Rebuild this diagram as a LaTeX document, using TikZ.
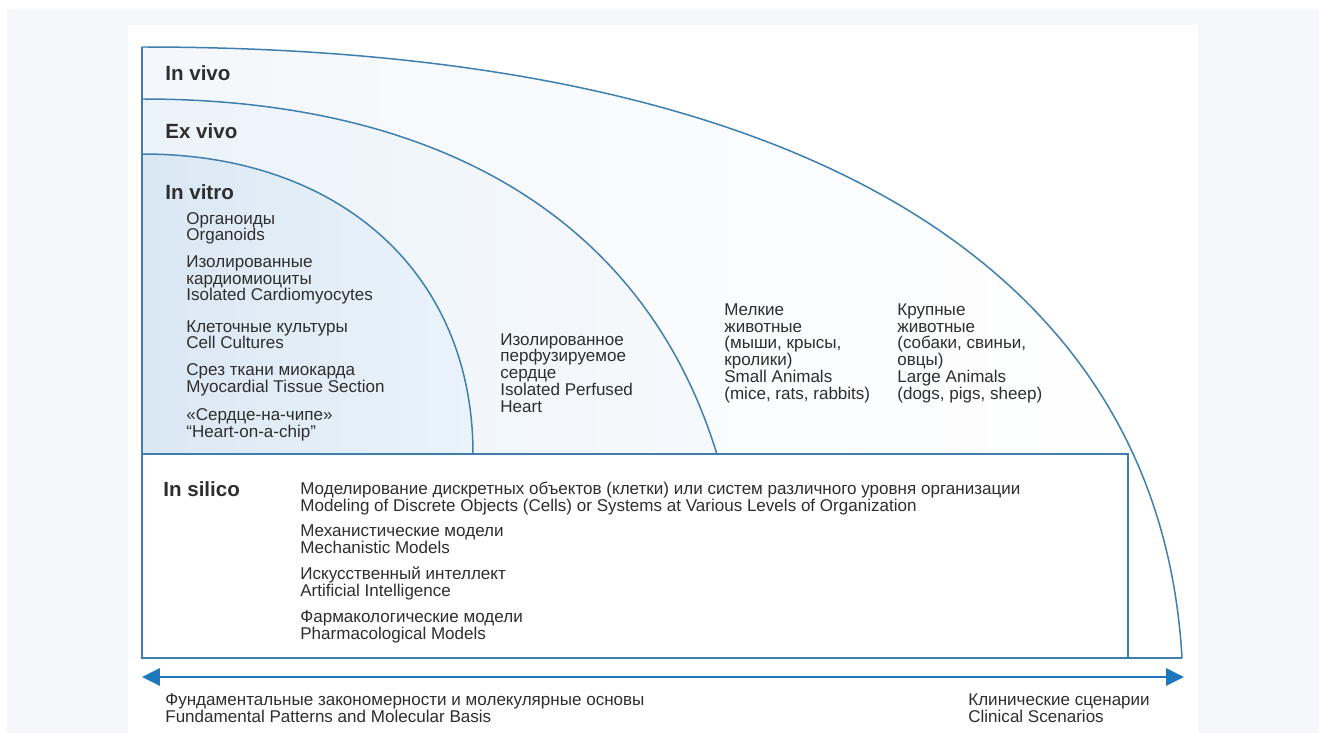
\documentclass[tikz,border=0pt]{standalone}
\usepackage{fontspec}
\setmainfont{Liberation Sans}
\usetikzlibrary{arrows.meta}

\definecolor{txt}{HTML}{2E2E2E}
\definecolor{rimblue}{HTML}{3F7FB0}
\definecolor{axisblue}{HTML}{1E78BE}
\definecolor{pagegray}{HTML}{F5F7FA}
\definecolor{vitroL}{HTML}{DAE8F4}
\definecolor{vitroR}{HTML}{EAF3FA}
\definecolor{exL}{HTML}{ECF3F9}
\definecolor{exR}{HTML}{F6F9FC}
\definecolor{vivoL}{HTML}{F4F7FB}

\begin{document}
\begin{tikzpicture}[x=0.02cm,y=-0.02cm,
    title/.style={font=\fontsize{11.7}{13}\selectfont\bfseries,text=txt,
                  anchor=base west,inner sep=0pt},
    item/.style={font=\fontsize{9.7}{9.5}\selectfont,text=txt,align=left,
                 anchor=base west,inner sep=0pt},
    rim/.style={draw=rimblue,line width=0.85pt},
    axis/.style={draw=axisblue,line width=1.7pt,
                 {Triangle[length=0.36cm,width=0.34cm]}-{Triangle[length=0.36cm,width=0.34cm]}}]

 \useasboundingbox (0,0) rectangle (1319,733);
 \fill[white] (0,0) rectangle (1319,733);
 \fill[pagegray] (7,9) rectangle (1319,733);
 \fill[white] (128,25) rectangle (1198,733);

 % nested regions
 \shade[left color=vivoL,right color=white]
   (142,658) -- (142,47) .. controls (806,47) and (1160,270) .. (1182,658) -- cycle;
 \shade[left color=exL,right color=exR]
   (142,658) -- (142,99) .. controls (528,99) and (745,300) .. (745,658) -- cycle;
 \shade[left color=vitroL,right color=vitroR]
   (142,454) -- (142,154) .. controls (341,154) and (473,274) .. (473,454) -- cycle;

 \draw[rim] (142,47) .. controls (806,47) and (1160,270) .. (1182,658);
 \draw[rim] (142,99) .. controls (528,99) and (745,300) .. (745,658);
 \draw[rim] (142,154) .. controls (341,154) and (473,274) .. (473,454);
 \draw[rim] (142,47) -- (142,658) -- (1182,658);
 \draw[rim,fill=white] (142,454) rectangle (1128,658);

 % anchors are on the last line of each text
 \node[title] (vivo)   at (165,81)  {In vivo};
 \node[title] (exvivo) at (165,139) {Ex vivo};
 \node[title] (vitro)  at (165,200) {In vitro};

 \node[item] (organoid) at (186,241) {Органоиды\\Organoids};
 \node[item] (cardio)   at (186,301) {Изолированные\\кардиомиоциты\\Isolated Cardiomyocytes};
 \node[item] (culture)  at (186,349) {Клеточные культуры\\Cell Cultures};
 \node[item] (slice)    at (186,392) {Срез ткани миокарда\\Myocardial Tissue Section};
 \node[item] (chip)     at (186,437) {«Сердце-на-чипе»\\“Heart-on-a-chip”};

 \node[item] (heart) at (500,412) {Изолированное\\перфузируемое\\сердце\\Isolated Perfused\\Heart};
 \node[item] (small) at (724,399) {Мелкие\\животные\\(мыши, крысы,\\кролики)\\Small Animals\\(mice, rats, rabbits)};
 \node[item] (large) at (897,399) {Крупные\\животные\\(собаки, свиньи,\\овцы)\\Large Animals\\(dogs, pigs, sheep)};

 \node[title] (silico) at (163,496) {In silico};
 \node[item] (discrete) at (300,511) {Моделирование дискретных объектов (клетки) или систем различного уровня организации\\Modeling of Discrete Objects (Cells) or Systems at Various Levels of Organization};
 \node[item] (mech)  at (300,553) {Механистические модели\\Mechanistic Models};
 \node[item] (ai)    at (300,596) {Искусственный интеллект\\Artificial Intelligence};
 \node[item] (pharm) at (300,639) {Фармакологические модели\\Pharmacological Models};

 \coordinate (basis) at (142,677);
 \coordinate (clinic) at (1184,677);
 \draw[axis] (basis) -- (clinic);

 \node[item] (fund) at (165,722) {Фундаментальные закономерности и молекулярные основы\\Fundamental Patterns and Molecular Basis};
 \node[item] (clin) at (968,722) {Клинические сценарии\\Clinical Scenarios};

\end{tikzpicture}
\end{document}
